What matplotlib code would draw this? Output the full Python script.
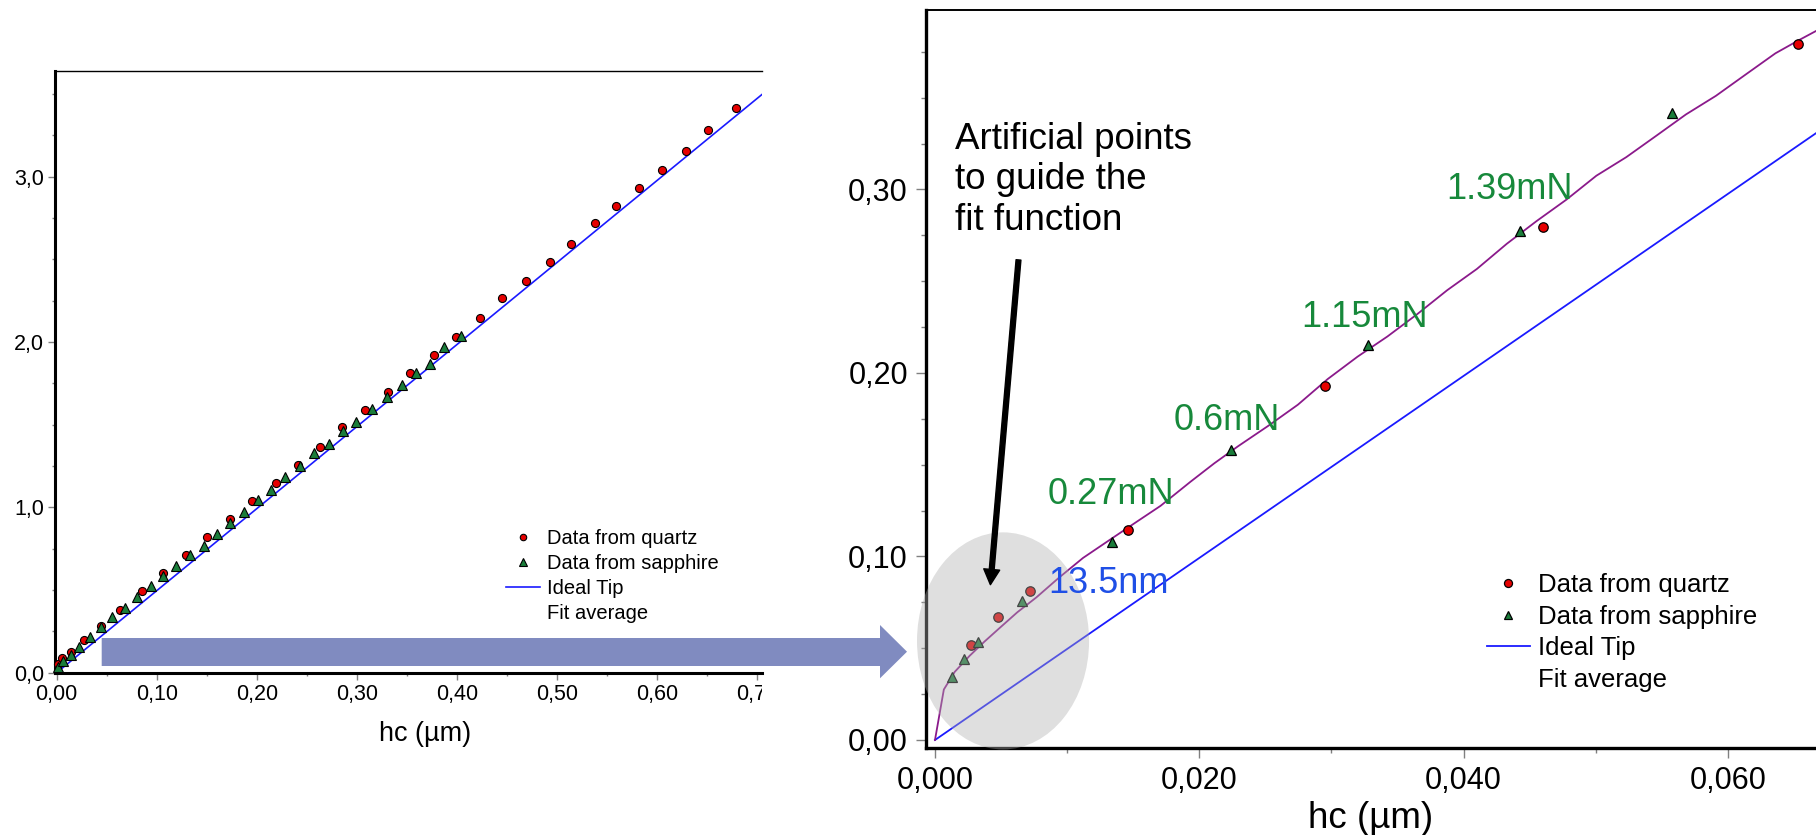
import numpy as np
import matplotlib
matplotlib.use("Agg")
import matplotlib.pyplot as plt
from matplotlib.ticker import MultipleLocator
from matplotlib.patches import Ellipse, Polygon
from matplotlib.lines import Line2D
from matplotlib.transforms import Bbox, TransformedBbox

# ---- data ----
# left panel: full depth range
quartz_hc = [0.0010, 0.0049, 0.0138, 0.0271, 0.0443, 0.0631, 0.0857, 0.1064, 0.1291,
             0.1507, 0.1729, 0.1956, 0.2192, 0.2414, 0.2635, 0.2857, 0.3084, 0.3315,
             0.3537, 0.3773, 0.3995, 0.4236, 0.4453, 0.4690, 0.4931, 0.5138, 0.5384,
             0.5591, 0.5818, 0.6054, 0.6291, 0.6512, 0.6793]
quartz_y = [0.055, 0.089, 0.124, 0.197, 0.282, 0.382, 0.492, 0.603, 0.711,
            0.821, 0.932, 1.039, 1.147, 1.258, 1.368, 1.484, 1.587, 1.695,
            1.813, 1.921, 2.032, 2.147, 2.266, 2.368, 2.484, 2.592, 2.721,
            2.821, 2.932, 3.039, 3.158, 3.284, 3.418]
sapphire_hc = [0.0015, 0.0064, 0.0138, 0.0222, 0.0330, 0.0443, 0.0557, 0.0680, 0.0803,
               0.0941, 0.1064, 0.1192, 0.1330, 0.1468, 0.1606, 0.1729, 0.1872, 0.2010,
               0.2148, 0.2286, 0.2429, 0.2576, 0.2719, 0.2867, 0.2995, 0.3153, 0.3305,
               0.3458, 0.3596, 0.3734, 0.3872, 0.4039]
sapphire_y = [0.032, 0.071, 0.105, 0.158, 0.216, 0.274, 0.334, 0.392, 0.458,
              0.526, 0.584, 0.645, 0.711, 0.768, 0.837, 0.905, 0.971, 1.045,
              1.105, 1.182, 1.250, 1.326, 1.384, 1.463, 1.518, 1.595, 1.668,
              1.742, 1.813, 1.868, 1.971, 2.039]

# right panel: shallow depths
quartz_hc_zoom = [0.00270, 0.00478, 0.00722, 0.01464, 0.0295, 0.0460, 0.0653]
quartz_y_zoom = [0.0519, 0.0669, 0.0812, 0.1145, 0.1929, 0.2794, 0.3795]
sapphire_hc_zoom = [0.00130, 0.00216, 0.00325, 0.00659, 0.01336, 0.0224, 0.0328, 0.0443, 0.0558]
sapphire_y_zoom = [0.0342, 0.0440, 0.0533, 0.0760, 0.1079, 0.1581, 0.2152, 0.2776, 0.3415]

fit_hc = [0.0000, 0.00067, 0.00149, 0.00261, 0.00374, 0.00487, 0.00623, 0.00767, 0.00939,
          0.01120, 0.01346, 0.01526, 0.01707, 0.01933, 0.02114, 0.02294, 0.02520, 0.02746,
          0.02972, 0.03198, 0.03424, 0.03650, 0.03876, 0.04101, 0.04327, 0.04553, 0.04779,
          0.05005, 0.05231, 0.05457, 0.05683, 0.05909, 0.06134, 0.06360, 0.06541, 0.06668]
fit_y = [0.0000, 0.0275, 0.0371, 0.0458, 0.0536, 0.0609, 0.0696, 0.0777, 0.0885,
         0.0992, 0.1102, 0.1189, 0.1276, 0.1407, 0.1508, 0.1601, 0.1711, 0.1827,
         0.1967, 0.2089, 0.2199, 0.2321, 0.2451, 0.2567, 0.2704, 0.2828, 0.2945,
         0.3075, 0.3176, 0.3292, 0.3409, 0.3510, 0.3626, 0.3742, 0.3815, 0.3864]

ideal_hc = [0.0, 0.72]
ideal_y = [0.0, 3.571]

xtick_left = [0.0, 0.1, 0.2, 0.3, 0.4, 0.5, 0.6, 0.7]
xlabels_left = ["0,00", "0,10", "0,20", "0,30", "0,40", "0,50", "0,60", "0,70"]
ytick_left = [0.0, 1.0, 2.0, 3.0]
ylabels_left = ["0,0", "1,0", "2,0", "3,0"]
xtick_right = [0.0, 0.02, 0.04, 0.06]
xlabels_right = ["0,000", "0,020", "0,040", "0,060"]
ytick_right = [0.0, 0.1, 0.2, 0.3]
ylabels_right = ["0,00", "0,10", "0,20", "0,30"]

legend_labels = ["Data from quartz", "Data from sapphire", "Ideal Tip", "Fit average"]

RED = "#e60000"
GREEN = "#1a7d3a"
BLUE = "#1a1aff"
PURPLE = "#8b1a8b"
TXTGREEN = "#17893b"

plt.rcParams["font.family"] = ["Liberation Sans", "DejaVu Sans"]

W, H = 1816, 835
fig = plt.figure(figsize=(W / 100, H / 100), dpi=100)

ax1 = fig.add_axes([55 / W, (H - 673) / H, (762 - 55) / W, (673 - 71) / H])
ax2 = fig.add_axes([926 / W, (H - 748) / H, (1816 - 926) / W, (748 - 10) / H])


def style(ax, lw_main, lw_top, ticklen, labelsize, pad):
    ax.spines["right"].set_visible(False)
    ax.spines["left"].set_linewidth(lw_main)
    ax.spines["bottom"].set_linewidth(lw_main)
    ax.spines["top"].set_linewidth(lw_top)
    ax.tick_params(which="major", direction="out", length=ticklen, width=1,
                   color="#808080", labelsize=labelsize, pad=pad)
    ax.tick_params(which="minor", direction="out", length=ticklen * 0.5, width=1,
                   color="#808080")


# ---- left panel ----
l_ideal, = ax1.plot(ideal_hc, ideal_y, color=BLUE, lw=1.2, zorder=2)
l_q, = ax1.plot(quartz_hc, quartz_y, ls="none", marker="o", ms=5.8, mfc=RED,
                mec="black", mew=0.8, zorder=3, clip_on=False)
l_s, = ax1.plot(sapphire_hc, sapphire_y, ls="none", marker="^", ms=6.8, mfc=GREEN,
                mec="black", mew=0.8, zorder=3, clip_on=False)
ax1.set_xlim(-0.0017, 0.7053)
ax1.set_ylim(-0.002, 3.64)
ax1.set_xticks(xtick_left)
ax1.set_xticklabels(xlabels_left)
ax1.set_yticks(ytick_left)
ax1.set_yticklabels(ylabels_left)
ax1.xaxis.set_minor_locator(MultipleLocator(0.05))
ax1.yaxis.set_minor_locator(MultipleLocator(0.25))
style(ax1, 2.2, 1.0, 5, 15.5, 3)
ax1.set_xlabel("hc (µm)", fontsize=19.5)
ax1.xaxis.set_label_coords(0.523, -0.079)

blank = Line2D([], [], color="none")
ax1.legend([l_q, l_s, l_ideal, blank], legend_labels, loc="upper left",
           bbox_to_anchor=(506 / W, (H - 529) / H), bbox_transform=fig.transFigure,
           frameon=False, borderpad=0, borderaxespad=0, fontsize=14.5,
           handlelength=1.7, handletextpad=0.35, labelspacing=0.3, markerscale=0.8)

# clip the left panel's tick labels at the panel edge, like the cropped original
clip = TransformedBbox(Bbox([[0, 0], [762 / W, 1]]), fig.transFigure)
for lbl in ax1.get_xticklabels():
    lbl.set_clip_box(clip)
    lbl.set_clip_on(True)

# ---- right panel ----
r_ideal, = ax2.plot(ideal_hc, ideal_y, color=BLUE, lw=1.3, zorder=2)
ax2.plot(fit_hc, fit_y, color=PURPLE, lw=1.3, zorder=2)
r_q, = ax2.plot(quartz_hc_zoom, quartz_y_zoom, ls="none", marker="o", ms=6.8, mfc=RED,
                mec="black", mew=0.9, zorder=3)
r_s, = ax2.plot(sapphire_hc_zoom, sapphire_y_zoom, ls="none", marker="^", ms=7.5,
                mfc=GREEN, mec="black", mew=0.9, zorder=3)
ax2.set_xlim(-0.00068, 0.06667)
ax2.set_ylim(-0.00436, 0.3978)
ax2.set_xticks(xtick_right)
ax2.set_xticklabels(xlabels_right)
ax2.set_yticks(ytick_right)
ax2.set_yticklabels(ylabels_right)
ax2.xaxis.set_minor_locator(MultipleLocator(0.01))
ax2.yaxis.set_minor_locator(MultipleLocator(0.025))
style(ax2, 2.4, 1.4, 7, 22, 6)
ax2.set_xlabel("hc (µm)", fontsize=26.5)
ax2.xaxis.set_label_coords(0.5, -0.072)

ax2.legend([r_q, r_s, r_ideal, blank], legend_labels, loc="upper left",
           bbox_to_anchor=(1487 / W, (H - 573) / H), bbox_transform=fig.transFigure,
           frameon=False, borderpad=0, borderaxespad=0, fontsize=18.5,
           handlelength=1.67, handletextpad=0.31, labelspacing=0.3, markerscale=0.85)

# grey shading over the artificial points
ax2.add_patch(Ellipse((0.00515, 0.0540), 0.01302, 0.1183, facecolor="#afafaf",
                      alpha=0.4, edgecolor="none", clip_on=False, zorder=4))

ax2.text(0.00148, 0.3368, "Artificial points\nto guide the\nfit function",
         fontsize=26.5, va="top", ha="left", linespacing=1.2, zorder=6)
ax2.annotate("", xy=(990.4, H - 584.7), xycoords="figure pixels",
             xytext=(1018.5, H - 259.9), textcoords="figure pixels",
             arrowprops=dict(facecolor="black", edgecolor="black", width=3.5,
                             headwidth=11.5, headlength=11, shrink=0), zorder=6)

ax2.text(0.03867, 0.2946, "1.39mN", color=TXTGREEN, fontsize=26, va="baseline", zorder=6)
ax2.text(0.02769, 0.2250, "1.15mN", color=TXTGREEN, fontsize=26, va="baseline", zorder=6)
ax2.text(0.01806, 0.1690, "0.6mN", color=TXTGREEN, fontsize=26, va="baseline", zorder=6)
ax2.text(0.00849, 0.1286, "0.27mN", color=TXTGREEN, fontsize=26, va="baseline", zorder=6)
ax2.text(0.00858, 0.0799, "13.5nm", color="#1f4fe6", fontsize=26, va="baseline", zorder=6)

# big block arrow from the left panel to the zoomed view
arrow_px = [(101.7, 638), (880, 638), (880, 625), (907, 651.7),
            (880, 678.3), (880, 666), (101.7, 666)]
fig.add_artist(Polygon([(x / W, (H - y) / H) for x, y in arrow_px], closed=True,
                       transform=fig.transFigure, facecolor="#808bc0", edgecolor="none"))

fig.savefig("out.png", dpi=100)
